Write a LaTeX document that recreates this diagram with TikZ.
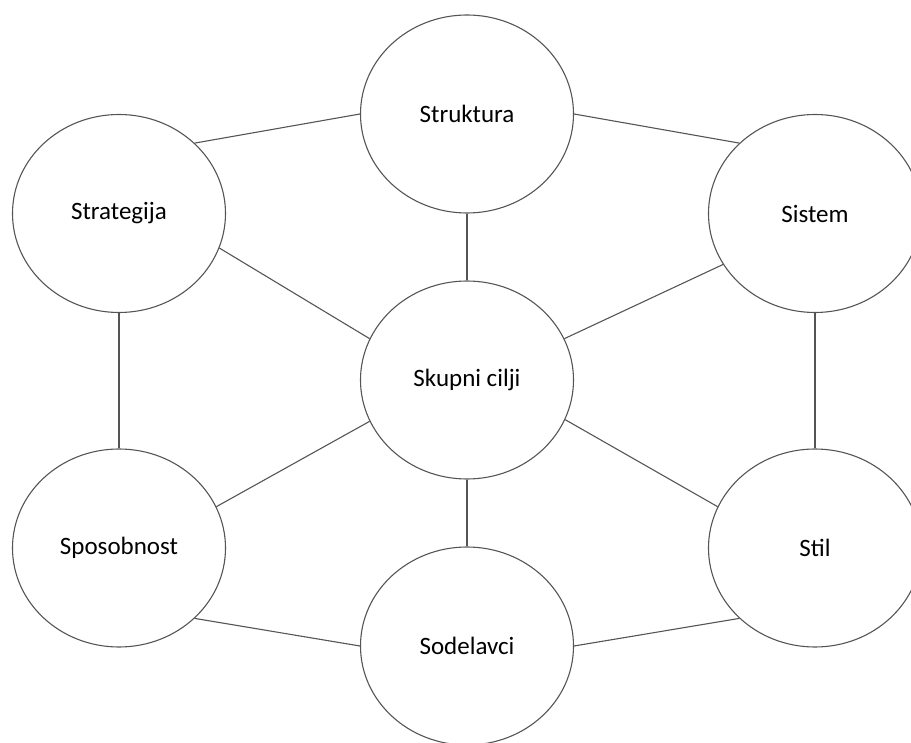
\documentclass[tikz,border=0pt]{standalone}
\usepackage{fontspec}
\setmainfont{Carlito}
\usetikzlibrary{shapes.geometric}
\definecolor{edge}{HTML}{555555}
\begin{document}
\begin{tikzpicture}[x=1pt,y=-1pt,
  part/.style={ellipse,draw=edge,line width=1.1pt,fill=white,inner sep=0pt,
    minimum width=213pt,minimum height=198pt,font=\fontsize{25}{30}\selectfont},
  link/.style={draw=edge,line width=1.1pt}]
  \useasboundingbox (0,0) rectangle (911,743);

  % the seven elements
  \node[part] (struktura)  at (467,114) {Struktura};
  \node[part] (strategija) at (119,213.5) {Strategija};
  \node[part] (sistem)     at (815,213.5) {Sistem};
  \node[part] (cilji)      at (467,380) {Skupni cilji};
  \node[part] (sposobnost) at (119,548) {Sposobnost};
  \node[part] (stil)       at (815,548) {Stil};
  \node[part] (sodelavci)  at (467,646) {Sodelavci};

  % outer ring
  \draw[link] (strategija.north east) -- (struktura.west);
  \draw[link] (struktura.east) -- (sistem.north west);
  \draw[link] (strategija.south) -- (sposobnost.north);
  \draw[link] (sistem.south) -- (stil.north);
  \draw[link] (sposobnost.south east) -- (sodelavci.west);
  \draw[link] (sodelavci.east) -- (stil.south west);

  % spokes to the shared goals
  \draw[link] (struktura.south) -- (cilji.north);
  \draw[link] (cilji.south) -- (sodelavci.north);
  \draw[link] (strategija.-19.7) -- (cilji.157);
  \draw[link] (sistem.209) -- (cilji.23.6);
  \draw[link] (cilji.203.3) -- (sposobnost.23.8);
  \draw[link] (cilji.-22.5) -- (stil.157.4);
\end{tikzpicture}
\end{document}
